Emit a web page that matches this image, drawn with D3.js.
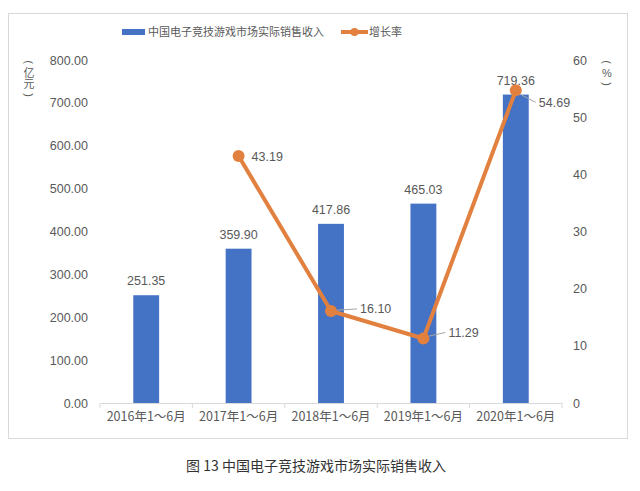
<!DOCTYPE html>
<html>
<head>
<meta charset="utf-8">
<script src="https://cdn.jsdelivr.net/npm/d3@7"></script>
<style>
  body { margin: 0; background: #fff; }
  svg text { font-family: "Liberation Sans", "Noto Sans CJK SC", sans-serif; }
  .cjk { font-family: "Noto Sans CJK SC", sans-serif; }
</style>
</head>
<body>
<svg id="chart"></svg>
<script>
// 数据
const categories = ["2016年1～6月", "2017年1～6月", "2018年1～6月", "2019年1～6月", "2020年1～6月"];
const revenue = [251.35, 359.90, 417.86, 465.03, 719.36];
const growth = [null, 43.19, 16.10, 11.29, 54.69];
const leftTicks = [0, 100, 200, 300, 400, 500, 600, 700, 800];
const rightTicks = [0, 10, 20, 30, 40, 50, 60];

const W = 640, H = 491;
const svg = d3.select("#chart").attr("width", W).attr("height", H);

const textCol = "#595959";
const barCol = "#4472C4";
const lineCol = "#E2813F";

// 外框
svg.append("rect")
  .attr("x", 8.5).attr("y", 13.5)
  .attr("width", 619).attr("height", 425)
  .attr("fill", "none").attr("stroke", "#d9d9d9");

const x = d3.scaleBand(categories, [100, 562]).paddingInner(0.72).paddingOuter(0.36);
const yL = d3.scaleLinear([0, 800], [403, 60]);
const yR = d3.scaleLinear([0, 60], [403, 60]);

// 左轴
const leftAxis = svg.append("g").attr("transform", "translate(92,0)")
  .call(d3.axisLeft(yL).tickValues(leftTicks).tickFormat(d3.format(".2f")).tickSize(0).tickPadding(4));
leftAxis.select(".domain").remove();
leftAxis.selectAll("text").attr("fill", textCol).attr("font-size", 12.5);

// 右轴
const rightAxis = svg.append("g").attr("transform", "translate(570,0)")
  .call(d3.axisRight(yR).tickValues(rightTicks).tickSize(0).tickPadding(3));
rightAxis.select(".domain").remove();
rightAxis.selectAll("text").attr("fill", textCol).attr("font-size", 12.5);

// x 轴
const xAxis = svg.append("g").attr("transform", "translate(0,403)")
  .call(d3.axisBottom(x).tickSize(0).tickPadding(9));
xAxis.select(".domain").attr("stroke", "#d9d9d9");
xAxis.selectAll("text").attr("fill", textCol).attr("font-size", 12.5).attr("class", "cjk");
// 分类边界刻度
const step = 462 / categories.length;
svg.append("g").selectAll("line").data(d3.range(categories.length + 1)).join("line")
  .attr("x1", i => 100 + i * step).attr("x2", i => 100 + i * step)
  .attr("y1", 403).attr("y2", 408)
  .attr("stroke", "#d9d9d9");

// 柱子
svg.append("g").selectAll("rect").data(revenue).join("rect")
  .attr("x", (d, i) => x(categories[i]))
  .attr("y", d => yL(d))
  .attr("width", x.bandwidth())
  .attr("height", d => yL(0) - yL(d))
  .attr("fill", barCol);

svg.append("g").selectAll("text").data(revenue).join("text")
  .attr("x", (d, i) => x(categories[i]) + x.bandwidth() / 2)
  .attr("y", d => yL(d) - 10)
  .attr("text-anchor", "middle")
  .attr("font-size", 12.5)
  .attr("fill", textCol)
  .text(d => d.toFixed(2));

// 折线
const pts = growth.map((g, i) => ({ cat: categories[i], g })).filter(d => d.g !== null);
const cx = d => x(d.cat) + x.bandwidth() / 2;
svg.append("path")
  .datum(pts)
  .attr("d", d3.line().x(cx).y(d => yR(d.g)))
  .attr("fill", "none")
  .attr("stroke", lineCol)
  .attr("stroke-width", 4)
  .attr("stroke-linejoin", "round");

svg.append("g").selectAll("circle").data(pts).join("circle")
  .attr("cx", cx).attr("cy", d => yR(d.g))
  .attr("r", 6).attr("fill", lineCol);

// 增长率标签（引线偏移: dx, dy, 是否有引线）
const labelOffsets = [[13, 0, false], [29, -2, true], [25, -6, true], [23, 12, true]];
const lbl = svg.append("g");
pts.forEach((d, i) => {
  const px = cx(d), py = yR(d.g);
  const [dx, dy, lead] = labelOffsets[i];
  if (lead) {
    lbl.append("line")
      .attr("x1", px + 6).attr("x2", px + dx - 3)
      .attr("y1", py + dy * 0.4).attr("y2", py + dy)
      .attr("stroke", "#a6a6a6");
  }
  lbl.append("text")
    .attr("x", px + dx)
    .attr("y", py + dy + 4.5)
    .attr("font-size", 12.5)
    .attr("fill", textCol)
    .text(d.g.toFixed(2));
});

// 单位（竖排）
const unit = (xPos, chars) => {
  const g = svg.append("g").attr("class", "cjk");
  chars.forEach((c, i) => {
    const yy = 62 + i * 11;
    const t = g.append("text")
      .attr("x", xPos).attr("y", yy + 4)
      .attr("text-anchor", "middle")
      .attr("font-size", 11)
      .attr("fill", textCol)
      .text(c);
    if (c === "(" || c === ")") {
      t.attr("transform", `rotate(90,${xPos},${yy})`);
    }
  });
};
unit(29, ["(", "亿", "元", ")"]);
unit(607, ["(", "%", ")"]);

// 图例
const leg = svg.append("g").attr("class", "cjk");
leg.append("rect").attr("x", 122).attr("y", 29).attr("width", 23).attr("height", 6).attr("fill", barCol);
leg.append("text").attr("x", 148).attr("y", 36).attr("font-size", 11).attr("fill", textCol)
  .text("中国电子竞技游戏市场实际销售收入");
leg.append("line").attr("x1", 341).attr("x2", 368).attr("y1", 32).attr("y2", 32)
  .attr("stroke", lineCol).attr("stroke-width", 4);
leg.append("circle").attr("cx", 354.5).attr("cy", 32).attr("r", 4).attr("fill", lineCol);
leg.append("text").attr("x", 369).attr("y", 36).attr("font-size", 11).attr("fill", textCol)
  .text("增长率");

// 图注
svg.append("text").attr("class", "cjk")
  .attr("x", 316).attr("y", 471)
  .attr("text-anchor", "middle")
  .attr("font-size", 14)
  .attr("fill", "#333")
  .text("图 13 中国电子竞技游戏市场实际销售收入");
</script>
</body>
</html>
